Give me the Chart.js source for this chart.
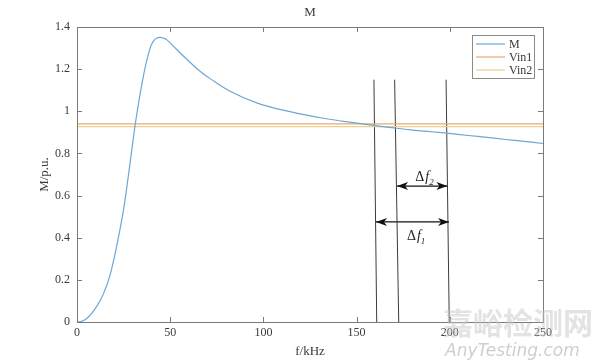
<!DOCTYPE html>
<html>
<head>
<meta charset="utf-8">
<script src="https://cdn.jsdelivr.net/npm/chart.js@4.4.1/dist/chart.umd.min.js"></script>
<style>
  html, body { margin: 0; padding: 0; background: #fff; }
  #wrap { width: 600px; height: 363px; position: relative; }
</style>
</head>
<body>
<div id="wrap"><canvas id="mChart" width="600" height="363"></canvas></div>
<script>
// gain curve M(f)
const freq = [0, 2.5, 5, 8, 11, 13.2, 15, 16.8, 18.6, 20.4, 22.2, 24.9, 27.5, 30.2, 31.1, 33.8, 36.5, 39.2, 40.9, 42.7, 44.5, 46.3, 48.1, 53.5, 58.9, 66, 71.4, 82.1, 96.4, 114.3, 132.1, 150, 160, 170, 180, 190, 198.3, 210, 220, 230, 240, 250];
const mValues = [0, 0.003, 0.015, 0.042, 0.08, 0.115, 0.152, 0.195, 0.252, 0.322, 0.4, 0.53, 0.69, 0.87, 0.93, 1.079, 1.205, 1.3, 1.332, 1.347, 1.351, 1.348, 1.34, 1.293, 1.247, 1.19, 1.155, 1.095, 1.04, 0.998, 0.967, 0.944, 0.932, 0.921, 0.911, 0.903, 0.896, 0.885, 0.876, 0.866, 0.857, 0.847];

// input voltage levels
const vin1 = 0.940;
const vin2 = 0.927;

// hand-drawn marker lines: [f at top, f at bottom]
const markerTopF = [159.3, 170.4, 198.0];
const markerBottomF = [160.8, 172.6, 199.7];
const markerTop = 1.15;

// delta-f arrows: [from f, to f, level]
const df2 = [171.7, 198.7, 0.645];
const df1 = [160.4, 199.6, 0.475];

const xTicks = [0, 50, 100, 150, 200, 250];
const yTicks = [0, 0.2, 0.4, 0.6, 0.8, 1, 1.2, 1.4];

const serif = "'Liberation Serif', 'DejaVu Serif', serif";
const axisColor = "#7a7a7a";
const textColor = "#3a3a3a";

const mColor = "#6fa6d2";
const vin1Color = "#e6aa72";
const vin2Color = "#efd08a";

const datasets = [
  {
    label: "M",
    data: freq.map((f, i) => ({ x: f, y: mValues[i] })),
    borderColor: mColor,
    borderWidth: 1.2,
    pointRadius: 0,
    tension: 0.4
  },
  {
    label: "Vin1",
    data: [{ x: 0, y: vin1 }, { x: 250, y: vin1 }],
    borderColor: vin1Color,
    borderWidth: 1.3,
    pointRadius: 0
  },
  {
    label: "Vin2",
    data: [{ x: 0, y: vin2 }, { x: 250, y: vin2 }],
    borderColor: vin2Color,
    borderWidth: 1.3,
    pointRadius: 0
  }
];

markerTopF.forEach((f, i) => {
  datasets.push({
    label: "marker" + i,
    data: [{ x: f, y: markerTop }, { x: markerBottomF[i], y: 0 }],
    borderColor: "#3c3c3c",
    borderWidth: 1,
    pointRadius: 0
  });
});

[df2, df1].forEach((a, i) => {
  datasets.push({
    label: "arrow" + i,
    data: [{ x: a[0], y: a[2] }, { x: a[1], y: a[2] }],
    borderColor: "#111",
    borderWidth: 1.2,
    pointRadius: 0
  });
});

// box, inward ticks, arrow heads, legend, title, labels
const decorPlugin = {
  id: "decor",
  afterDatasetsDraw(chart) {
    const ctx = chart.ctx;
    const xs = chart.scales.x;
    const ys = chart.scales.y;
    const a = chart.chartArea;
    ctx.save();

    // arrow heads
    ctx.fillStyle = "#111";
    chart.data.datasets.forEach((ds, di) => {
      if (!ds.label.startsWith("arrow")) return;
      const pts = chart.getDatasetMeta(di).data;
      const p0 = pts[0], p1 = pts[1];
      [[p0, 1], [p1, -1]].forEach(([p, dir]) => {
        ctx.beginPath();
        ctx.moveTo(p.x, p.y);
        ctx.lineTo(p.x + dir * 11, p.y - 4);
        ctx.lineTo(p.x + dir * 8, p.y);
        ctx.lineTo(p.x + dir * 11, p.y + 4);
        ctx.closePath();
        ctx.fill();
      });
    });

    // delta labels
    ctx.fillStyle = "#222";
    ctx.textAlign = "left";
    ctx.textBaseline = "middle";
    const drawDelta = (f, v, sub) => {
      const x = xs.getPixelForValue(f);
      const y = ys.getPixelForValue(v);
      ctx.font = "14px " + serif;
      ctx.fillText("\u0394", x, y);
      const w = ctx.measureText("\u0394").width;
      ctx.font = "italic 14px " + serif;
      ctx.fillText("f", x + w + 1, y);
      const w2 = ctx.measureText("f").width;
      ctx.font = "italic 9px " + serif;
      ctx.fillText(sub, x + w + w2 + 1, y + 5);
    };
    drawDelta(181.5, 0.685, "2");
    drawDelta(177, 0.405, "1");

    // axes box
    ctx.strokeStyle = axisColor;
    ctx.lineWidth = 1;
    ctx.strokeRect(a.left + 0.5, a.top + 0.5, a.right - a.left, a.bottom - a.top);

    // inward ticks on all sides
    ctx.beginPath();
    xTicks.forEach(t => {
      const x = Math.round(xs.getPixelForValue(t)) + 0.5;
      ctx.moveTo(x, a.bottom); ctx.lineTo(x, a.bottom - 5);
      ctx.moveTo(x, a.top); ctx.lineTo(x, a.top + 5);
    });
    yTicks.forEach(t => {
      const y = Math.round(ys.getPixelForValue(t)) + 0.5;
      ctx.moveTo(a.left, y); ctx.lineTo(a.left + 5, y);
      ctx.moveTo(a.right, y); ctx.lineTo(a.right - 5, y);
    });
    ctx.stroke();

    // legend
    const lx = 472, ly = 35, lw = 62, lh = 43;
    ctx.fillStyle = "#fff";
    ctx.fillRect(lx, ly, lw, lh);
    ctx.strokeStyle = "#8a8a8a";
    ctx.strokeRect(lx + 0.5, ly + 0.5, lw, lh);
    ctx.font = "12px " + serif;
    ctx.textBaseline = "middle";
    ctx.textAlign = "left";
    chart.data.datasets.slice(0, 3).forEach((ds, i) => {
      const y = ly + 9 + i * 13;
      ctx.strokeStyle = ds.borderColor;
      ctx.lineWidth = 1.2;
      ctx.beginPath();
      ctx.moveTo(lx + 4, y); ctx.lineTo(lx + 33, y);
      ctx.stroke();
      ctx.fillStyle = textColor;
      ctx.fillText(ds.label, lx + 37, y + 1);
    });

    // title
    ctx.fillStyle = textColor;
    ctx.font = "13px " + serif;
    ctx.textAlign = "center";
    ctx.textBaseline = "middle";
    ctx.fillText("M", (a.left + a.right) / 2, 13);

    // watermark
    ctx.font = "bold 30px 'Noto Sans CJK SC'";
    ctx.fillStyle = "rgba(200,200,200,0.5)";
    ctx.textAlign = "left";
    ctx.fillText("\u5609\u5cea\u68c0\u6d4b\u7f51", 443, 323);
    ctx.font = "italic 17px 'DejaVu Sans'";
    ctx.fillStyle = "rgba(185,185,185,0.7)";
    ctx.fillText("AnyTesting.com", 445, 352);

    ctx.restore();
  }
};

new Chart(document.getElementById("mChart"), {
  type: "line",
  data: { datasets },
  plugins: [decorPlugin],
  options: {
    responsive: false,
    animation: false,
    layout: { padding: { left: 35, right: 57, top: 27, bottom: 0 } },
    plugins: {
      legend: { display: false },
      tooltip: { enabled: false }
    },
    scales: {
      x: {
        type: "linear",
        min: 0,
        max: 250,
        afterBuildTicks: s => { s.ticks = xTicks.map(v => ({ value: v })); },
        afterFit: s => { s.height = 41; },
        grid: { display: false, drawTicks: false },
        border: { display: false },
        ticks: { color: textColor, font: { family: serif, size: 12 }, padding: 4, maxRotation: 0 },
        title: { display: true, text: "f/kHz", color: textColor, font: { family: serif, size: 13 }, padding: { top: 1 } }
      },
      y: {
        type: "linear",
        min: 0,
        max: 1.4,
        afterBuildTicks: s => { s.ticks = yTicks.map(v => ({ value: v })); },
        afterFit: s => { s.width = 42; },
        grid: { display: false, drawTicks: false },
        border: { display: false },
        ticks: {
          color: textColor,
          font: { family: serif, size: 12 },
          padding: 7,
          callback: v => String(Math.round(v * 10) / 10)
        },
        title: { display: true, text: "M/p.u.", color: textColor, font: { family: serif, size: 13 }, padding: 2 }
      }
    }
  }
});
</script>
</body>
</html>
